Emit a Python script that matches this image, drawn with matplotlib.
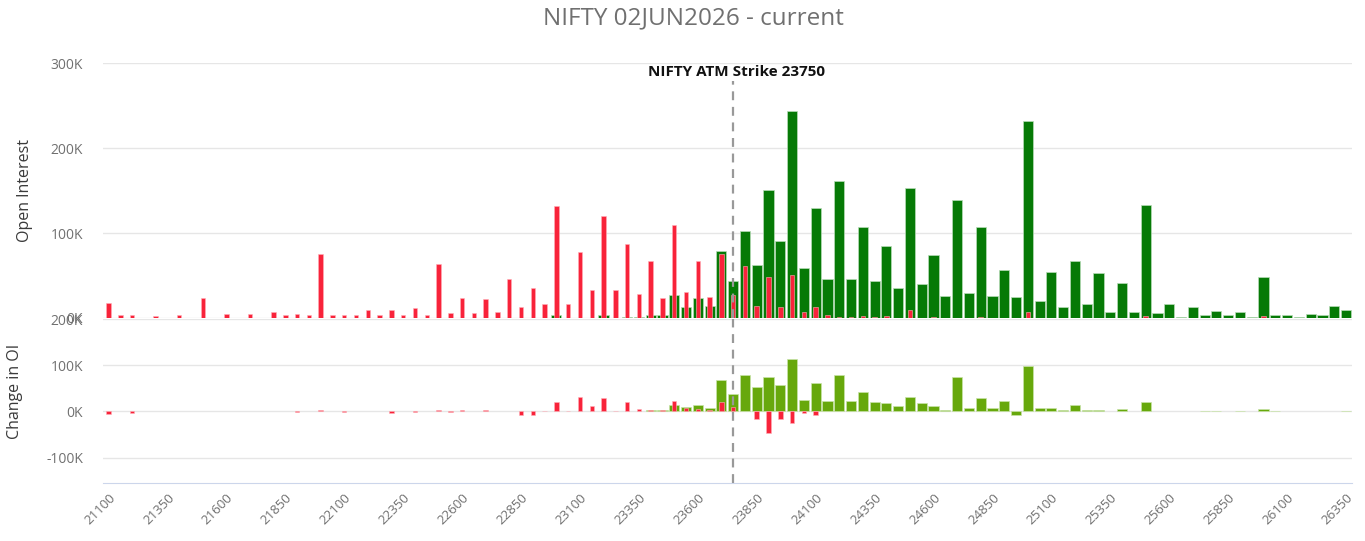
import matplotlib
matplotlib.use('Agg')
import matplotlib.pyplot as plt
import numpy as np

plt.rcParams['font.family'] = ['Open Sans', 'DejaVu Sans']

# Strike categories (every 50 points) and the ATM strike.
strikes = list(range(21100, 26351, 50))
atm_strike = 23750

# Open interest, in thousands.
put_oi = [18, 3, 4, 0, 2.5, 0, 4, 0, 24, 0,
          5, 0, 5, 0, 7.5, 3, 5, 3, 75, 3,
          4, 3, 10, 3, 10, 4, 12, 3.5, 64, 5.5,
          24, 5.5, 22, 7, 46, 13, 35, 17, 132, 17,
          78, 33, 120, 33, 87, 28, 67, 23, 109, 31,
          67, 25, 75, 27, 61, 14, 48, 12.5, 51, 7,
          12.5, 3, 1, 1, 2, 1, 2, 0, 9, 0,
          1, 0, 0, 0, 1, 0, 0, 0, 7, 0,
          0, 0, 0, 0, 0, 0, 0, 0, 2, 0,
          0, 0, 0, 0, 0, 0, 0, 0, 2, 0,
          0, 0, 0, 0, 0, 0]
call_oi = [0, 0, 0, 0, 0, 0, 0, 0, 0, 0,
           0, 0, 0, 0, 0, 0, 0, 0, 0, 0,
           0, 0, 0, 0, 0, 0, 0, 0, 0, 0,
           0, 0, 0, 0, 0, 0, 0, 0, 3.5, 0,
           0, 0, 3.5, 0, 1.5, 1.5, 4, 3, 27, 12.5,
           24, 14, 79, 43, 102, 62, 151, 91, 244, 59,
           129, 46, 161, 46, 107, 43, 85, 35.5, 153, 40.5,
           74.5, 26, 139, 29.6, 107, 26, 57, 25, 232, 20,
           54, 12.5, 67, 16, 52.6, 7, 41.7, 7, 133, 5.5,
           16, 1.5, 12.5, 3, 8, 3, 7, 1.5, 48, 3,
           3, 1.5, 5, 3, 14, 9]

# Change in open interest, in thousands.
put_chg = [-6, 0, -4, 0, 0, 0, 0, 0, 0, 0,
           0, 0, 0, 0, 0, 0, -2, 0, 3, 0,
           -2, 0, 0, 0, -4, 0, -2, 0, 2, -1,
           4, 0, 2, 0, 0, -7, -7, 1, 20, 1,
           31, 12, 28, 1, 20, 6, 2, 2, 23, 7,
           6, 4, 21, 9, 0, -17, -46, -17, -26, -4,
           -8, 0, 0, 0, 0, 0, 0, 0, 0, 0,
           0, 0, 0, 0, 0, 0, 0, 0, 0, 0,
           0, 0, 0, 0, 0, 0, 0, 0, 0, 0,
           0, 0, 0, 0, 0, 0, 0, 0, 0, 0,
           0, 0, 0, 0, 0, 0]
call_chg = [0, 0, 0, 0, 0, 0, 0, 0, 0, 0,
            0, 0, 0, 0, 0, 0, 0, 0, 0, 0,
            0, 0, 0, 0, 0, 0, 0, 0, 0, 0,
            0, 0, 0, 0, 0, 0, 0, 0, 0, 0,
            0, 0, 0, 0, 0, 0, 4, 4, 14, 9,
            13, 8, 67, 38, 78, 52, 74, 58, 114, 25,
            61, 23, 78, 23, 42, 21, 18, 11, 32, 18,
            11, 3, 74, 7, 29, 8, 23, -8, 98, 7,
            7, 3, 13, 3, 3, 0, 6, 0, 20, 0,
            0, 0, 0, 1.5, 1.5, 0, 1.5, 0, 6, 1.5,
            0, 0, 0, 0, 0, 1.5]

red = '#f8233a'
dark_green = '#067a06'
light_green = '#67a80c'
grey_text = '#707070'
grid_col = '#e6e6e6'

x = np.arange(len(strikes))
atm_i = strikes.index(atm_strike)


def edge_widths(values, lw):
    # no outline on empty bars, so zero values leave no stray dash
    return [lw if v else 0 for v in values]


fig = plt.figure(figsize=(13.65, 5.41), dpi=100)
ax1 = fig.add_axes([0.0752, 0.4122, 0.9152, 0.4713])
ax2 = fig.add_axes([0.0752, 0.1072, 0.9152, 0.3031])

# Open interest panel
ax1.bar(x, call_oi, width=0.86, color=dark_green, edgecolor='#b8dcb8',
        linewidth=edge_widths(call_oi, 0.5), zorder=2)
ax1.bar(x, put_oi, width=0.38, color=red, edgecolor='#ffb0b8',
        linewidth=edge_widths(put_oi, 0.4), zorder=3)
ax1.set_ylim(0, 300)
ax1.set_yticks([0, 100, 200, 300])
ax1.set_yticklabels(['0K', '100K', '200K', '300K'])
ax1.set_ylabel('Open Interest', color='#3a3a3a', fontsize=11.5)
ax1.yaxis.set_label_coords(-0.0558, 0.5)
ax1.set_xticks([])

# Change in OI panel
ax2.bar(x, call_chg, width=0.86, color=light_green, edgecolor='#c8e4a8',
        linewidth=edge_widths(call_chg, 0.5), zorder=2)
ax2.bar(x, put_chg, width=0.38, color=red, edgecolor='#ffb0b8',
        linewidth=edge_widths(put_chg, 0.4), zorder=3)
ax2.set_ylim(-155, 200)
ax2.set_yticks([-100, 0, 100, 200])
ax2.set_yticklabels(['-100K', '0K', '100K', '200K'])
ax2.set_ylabel('Change in OI', color='#3a3a3a', fontsize=11.5)
ax2.yaxis.set_label_coords(-0.0638, 0.56)

for ax in (ax1, ax2):
    ax.set_xlim(-0.5, len(strikes) - 0.5)
    for side in ('top', 'right', 'left', 'bottom'):
        ax.spines[side].set_visible(False)
    ax.grid(axis='y', color=grid_col, linewidth=1, zorder=0)
    ax.set_axisbelow(True)
    ax.tick_params(axis='y', length=0, labelcolor=grey_text, labelsize=10, pad=14)

ax2.spines['bottom'].set_visible(True)
ax2.spines['bottom'].set_color('#ccd6eb')
ax2.set_xticks(x[::5])
ax2.set_xticklabels([str(s) for s in strikes[::5]], rotation=45, ha='right',
                    rotation_mode='anchor', color=grey_text, fontsize=9.5)
ax2.tick_params(axis='x', length=0, pad=6)

# ATM strike marker
ax1.axvline(atm_i, ymin=0, ymax=0.93, color='#999999', linestyle=(0, (4, 3)), linewidth=1.6, zorder=4)
ax2.axvline(atm_i, color='#999999', linestyle=(0, (4, 3)), linewidth=1.6, zorder=4)
ax1.text(atm_i + 0.3, 289, f'NIFTY ATM Strike {atm_strike}', ha='center', va='center',
         fontsize=11, fontweight='bold', color='#111111', zorder=5)

fig.text(0.508, 0.966, 'NIFTY 02JUN2026 - current', ha='center', va='center',
         fontsize=17.5, color=grey_text)

fig.savefig('out.png', dpi=100)
